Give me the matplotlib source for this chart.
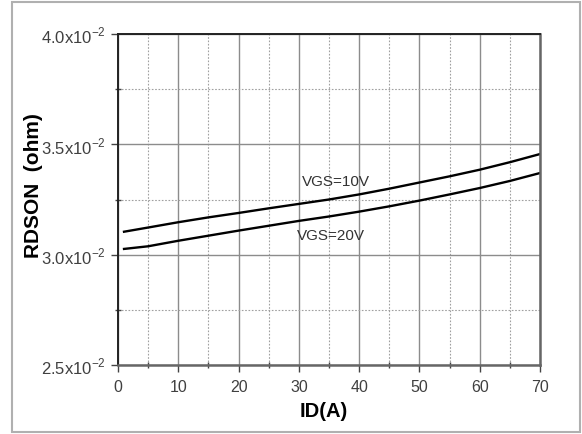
import matplotlib
matplotlib.use("Agg")
import matplotlib.pyplot as plt
from matplotlib.patches import Rectangle
from matplotlib.ticker import MultipleLocator, FixedLocator

plt.rcParams['font.family'] = ['Liberation Sans', 'DejaVu Sans']
plt.rcParams['mathtext.fontset'] = 'custom'
plt.rcParams['mathtext.rm'] = 'Liberation Sans'

id_a = [1, 5, 10, 15, 20, 25, 30, 35, 40, 45, 50, 55, 60, 65, 70]
rds_10 = [0.03104, 0.03123, 0.03147, 0.03169, 0.03189, 0.03210, 0.03230, 0.03250,
          0.03273, 0.03299, 0.03327, 0.03355, 0.03385, 0.03419, 0.03456]
rds_20 = [0.03026, 0.03038, 0.03063, 0.03086, 0.03109, 0.03131, 0.03153, 0.03173,
          0.03195, 0.03219, 0.03245, 0.03273, 0.03302, 0.03334, 0.03370]

x_ticks = [0, 10, 20, 30, 40, 50, 60, 70]
y_ticks = [0.025, 0.030, 0.035, 0.040]
y_labels = [r"2.5x10$^{-2}$", r"3.0x10$^{-2}$", r"3.5x10$^{-2}$", r"4.0x10$^{-2}$"]

W, H = 582, 435
fig = plt.figure(figsize=(W / 100, H / 100), dpi=100)
fig.patches.append(Rectangle((12 / W, 2 / H), (580 - 12) / W, (432 - 2) / H,
                             transform=fig.transFigure, fill=False,
                             edgecolor='#b0b0b0', linewidth=1.5))

ax = fig.add_axes([118 / W, 1 - 366 / H, (540 - 118) / W, (366 - 35) / H])
ax.set_xlim(0, 70)
ax.set_ylim(0.025, 0.040)

ax.xaxis.set_major_locator(FixedLocator(x_ticks))
ax.xaxis.set_minor_locator(MultipleLocator(5))
ax.yaxis.set_major_locator(FixedLocator(y_ticks))
ax.yaxis.set_minor_locator(MultipleLocator(0.0025))
ax.set_yticklabels(y_labels)
ax.set_xticklabels([str(v) for v in x_ticks])

ax.grid(which='major', color='#8c8c8c', linewidth=1.0, linestyle='-')
ax.grid(which='minor', color='#a0a0a0', linewidth=0.8, linestyle=(0, (1.5, 1.5)))

ax.tick_params(which='major', direction='out', length=5, width=1, color='#444444',
               labelcolor='#404040', pad=4)
ax.tick_params(axis='y', which='major', labelsize=12)
ax.tick_params(axis='x', which='major', labelsize=11.5, pad=5)
ax.tick_params(which='minor', direction='inout', length=4, width=1, color='#444444')

for s in ['left', 'top']:
    ax.spines[s].set_color('#222222')
    ax.spines[s].set_linewidth(1.4)
for s in ['right', 'bottom']:
    ax.spines[s].set_color('#666666')
    ax.spines[s].set_linewidth(1.8)

ax.plot(id_a, rds_10, color='black', linewidth=1.7)
ax.plot(id_a, rds_20, color='black', linewidth=1.7)

ax.text(30.5, 0.03332, "VGS=10V", fontsize=11, color='#333333', va='center', ha='left')
ax.text(29.6, 0.03089, "VGS=20V", fontsize=11, color='#333333', va='center', ha='left')

fig.text(324 / W, 1 - 412 / H, "ID(A)", fontsize=14.5, fontweight='bold',
         ha='center', va='center')
fig.text(33.5 / W, 1 - 185.5 / H, "RDSON  (ohm)", fontsize=15, fontweight='bold',
         rotation=90, ha='center', va='center')

fig.savefig("out.png", dpi=100)
